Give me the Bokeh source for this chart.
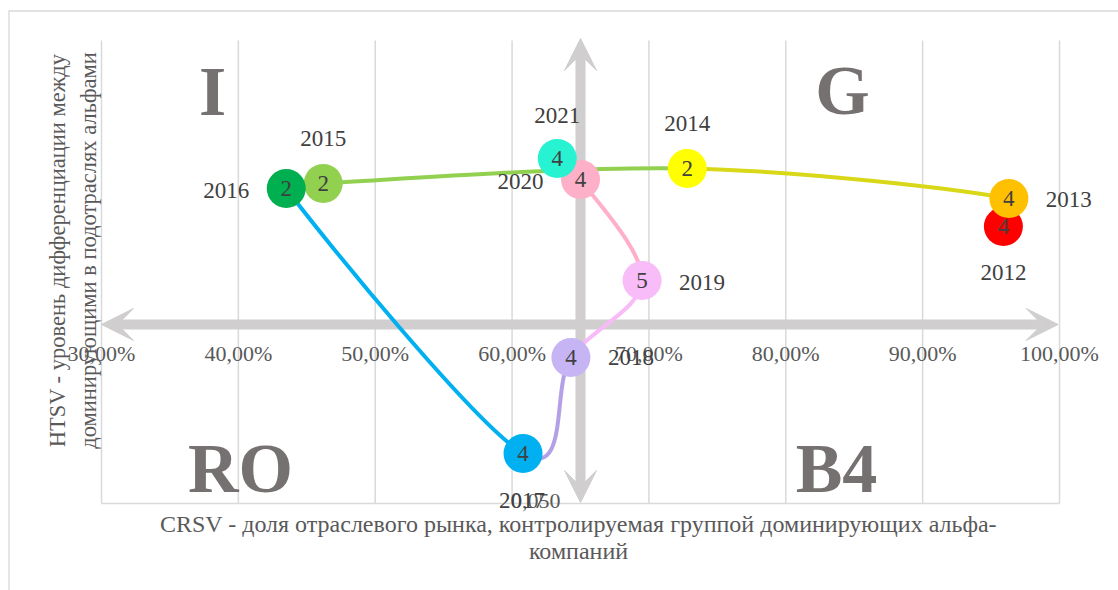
import numpy as np
from bokeh.plotting import figure
from bokeh.models import ColumnDataSource, Arrow, VeeHead, Range1d
from bokeh.embed import file_html
from bokeh.resources import INLINE
from bokeh.core.properties import value

# ---------------- data ----------------
years = ["2012", "2013", "2014", "2015", "2016", "2017", "2018", "2019", "2020", "2021"]
crsv = [95.9, 96.3, 72.8, 46.2, 43.5, 60.8, 64.3, 69.5, 65.0, 63.3]          # %
htsv = [0.2295, 0.2476, 0.2671, 0.2574, 0.2541, 0.0824, 0.1446, 0.1945, 0.2599, 0.2736]
bubble_values = ["4", "4", "2", "2", "2", "4", "4", "5", "4", "4"]
bubble_colors = ["#ff0000", "#ffc000", "#ffff00", "#92d050", "#00b050",
                 "#00b0f0", "#c6b4f5", "#f8bcf8", "#fdb0c8", "#27f2d2"]
# colour of the connecting segment that starts at each point (None = no line)
segment_colors = [None, "#d8d818", "#92d050", None, "#00b0f0",
                  "#b4a0e6", "#f9bbf7", "#ffafc8", None]

x_ticks = [30, 40, 50, 60, 70, 80, 90, 100]
x_tick_labels = ["30,00%", "40,00%", "50,00%", "60,00%", "70,00%", "80,00%", "90,00%", "100,00%"]
y_ticks = [0.05]
y_tick_labels = ["0,050"]
x_axis_cross = 0.166     # HTSV value where the horizontal axis crosses
y_axis_cross = 65.0      # CRSV value where the vertical axis crosses
x_min, x_max = 30, 100
y_min, y_max = 0.05, 0.35

quadrants = ["I", "G", "RO", "B4"]

x_title_lines = ["CRSV - доля отраслевого рынка, контролируемая группой доминирующих альфа-",
                 "компаний"]
y_title_lines = ["HTSV - уровень дифференциации между",
                 "доминирующими в подотраслях альфами"]

FONT = "Liberation Serif"
W, H = 1118, 590

# ---------------- layout (pixel placement of plot area) ----------------
PL, PR, PT, PB = 101, 1059, 40, 503     # plot-area edges in page px
kx = (PR - PL) / (x_max - x_min)
ky = (PB - PT) / (y_max - y_min)
def px2x(px):
    return x_min + (px - PL) / kx
def px2y(py):
    return y_min + (PB - py) / ky

p = figure(width=W, height=H, output_backend="svg", toolbar_location=None,
           x_range=Range1d(px2x(0), px2x(W)), y_range=Range1d(px2y(H), px2y(0)),
           min_border=0, min_border_left=0, min_border_right=0,
           min_border_top=0, min_border_bottom=0)
p.xaxis.visible = False
p.yaxis.visible = False
p.xgrid.visible = False
p.ygrid.visible = False
p.outline_line_color = None
p.background_fill_color = "white"
p.border_fill_color = "white"

# outer chart border (top & left visible)
p.segment(x0=[px2x(8), px2x(8.5)], y0=[px2y(10.5), px2y(10.5)],
          x1=[px2x(W), px2x(8.5)], y1=[px2y(10.5), px2y(H)],
          line_color="#d9d9d9", line_width=1.3, level="image")

# gridlines
p.segment(x0=x_ticks, y0=[y_min] * len(x_ticks), x1=x_ticks, y1=[y_max] * len(x_ticks),
          line_color="#d9d9d9", line_width=1.5, level="image")
p.segment(x0=[x_min] * len(y_ticks), y0=y_ticks, x1=[x_max] * len(y_ticks), y1=y_ticks,
          line_color="#d9d9d9", line_width=1.5, level="image")

# axis arrows (beneath the series)
arrow_col = "#d0cece"
def vhead():
    return VeeHead(size=32, fill_color=arrow_col, line_color=arrow_col)
p.add_layout(Arrow(start=vhead(), end=vhead(),
                   x_start=x_min, y_start=x_axis_cross, x_end=x_max - 0.1, y_end=x_axis_cross,
                   line_color=arrow_col, line_width=10, level="underlay"))
p.add_layout(Arrow(start=vhead(), end=vhead(),
                   x_start=y_axis_cross, y_start=px2y(502), x_end=y_axis_cross, y_end=px2y(38),
                   line_color=arrow_col, line_width=10, level="underlay"))

# smoothed connecting line (Catmull-Rom -> cubic Bezier, Excel-style smoothing)
X = np.array(crsv)
Y = np.array(htsv)
n = len(X)
def tangent(i):
    a = max(i - 1, 0)
    b = min(i + 1, n - 1)
    return X[b] - X[a], Y[b] - Y[a]
seg = dict(x0=[], y0=[], x1=[], y1=[], cx0=[], cy0=[], cx1=[], cy1=[], c=[])
for i in range(n - 1):
    if segment_colors[i] is None:
        continue
    t0 = tangent(i)
    t1 = tangent(i + 1)
    seg["x0"].append(X[i]); seg["y0"].append(Y[i])
    seg["x1"].append(X[i + 1]); seg["y1"].append(Y[i + 1])
    seg["cx0"].append(X[i] + t0[0] / 6); seg["cy0"].append(Y[i] + t0[1] / 6)
    seg["cx1"].append(X[i + 1] - t1[0] / 6); seg["cy1"].append(Y[i + 1] - t1[1] / 6)
    seg["c"].append(segment_colors[i])
p.bezier(x0="x0", y0="y0", x1="x1", y1="y1", cx0="cx0", cy0="cy0", cx1="cx1", cy1="cy1",
         line_color="c", line_width=4, source=ColumnDataSource(seg))

# label placement (screen px, + right / + down)
label_dx = [0, 60, 0, 0, -60, -1, 60, 60, -60, 0]
label_dy = [46, 1, -45, -45, 2, 47, 0, 2, 2, -43]

src = ColumnDataSource(dict(x=crsv, y=htsv, v=bubble_values, c=bubble_colors, year=years,
                            dx=label_dx, dy=label_dy))
p.scatter("x", "y", size=39, fill_color="c", line_color=None, source=src)
p.text("x", "y", text="v", text_align="center", text_baseline="middle",
       text_font=value(FONT), text_font_size="23px", text_color="#404040", source=src)

# quadrant letters
quad_px = [(212, 91), (842, 90), (240, 468), (836, 468)]
p.text([px2x(a) for a, b in quad_px], [px2y(b) for a, b in quad_px], text=quadrants,
       text_align="center", text_baseline="middle",
       text_font=value(FONT), text_font_style="bold", text_font_size="70px",
       text_color="#767171")

# x tick labels placed next to the crossing axis
p.text(x_ticks, [x_axis_cross] * len(x_ticks), text=x_tick_labels, y_offset=29,
       text_align="center", text_baseline="middle", text_font=value(FONT),
       text_font_size="22px", text_color="#595959")

# y tick label(s) next to the vertical axis
p.text([y_axis_cross] * len(y_ticks), y_ticks, text=y_tick_labels, x_offset=-20, y_offset=-3,
       text_align="right", text_baseline="middle", text_font=value(FONT),
       text_font_size="22px", text_color="#595959")

# year labels
p.text("x", "y", text="year", x_offset="dx", y_offset="dy", source=src,
       text_align="center", text_baseline="middle", text_font=value(FONT),
       text_font_size="23px", text_color="#404040")

# axis titles
p.text([px2x(578), px2x(578)], [px2y(523), px2y(550)], text=x_title_lines,
       text_align="center", text_baseline="middle", text_font=value(FONT),
       text_font_size="24px", text_color="#595959")
p.text([px2x(57), px2x(88)], [px2y(250), px2y(250)], text=y_title_lines, angle=np.pi / 2,
       text_align="center", text_baseline="middle", text_font=value(FONT),
       text_font_size="22.5px", text_color="#595959")

open("out.html", "w").write(file_html(p, INLINE))
